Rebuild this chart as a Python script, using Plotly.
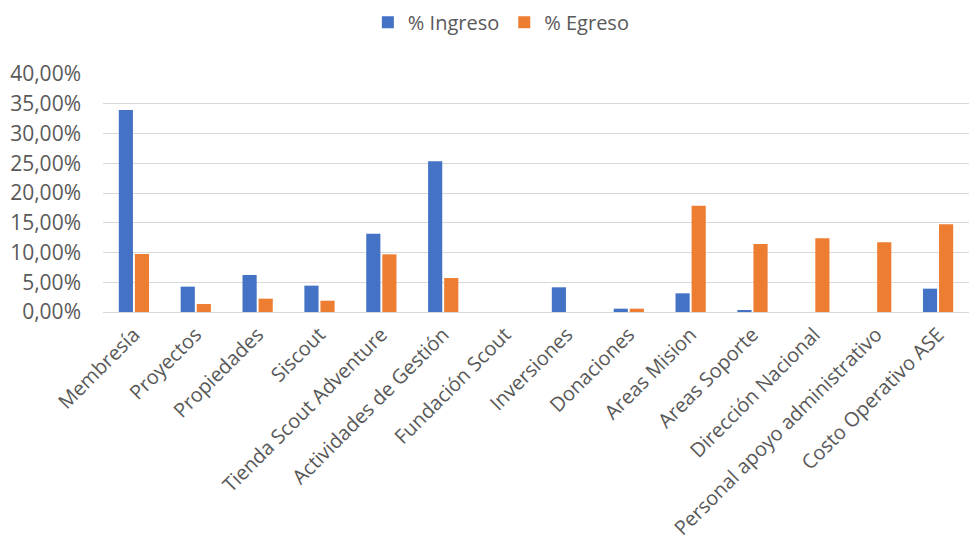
import plotly.graph_objects as go

categories = ["Membresía", "Proyectos", "Propiedades", "Siscout", "Tienda Scout Adventure",
              "Actividades de Gestión", "Fundación Scout", "Inversiones", "Donaciones",
              "Areas Mision", "Areas Soporte", "Dirección Nacional",
              "Personal apoyo administrativo", "Costo Operativo ASE"]
ingreso = [0.3395, 0.0426, 0.0622, 0.0443, 0.1317, 0.2532, 0.0, 0.0415, 0.0056,
           0.0314, 0.0022, 0.0, 0.0, 0.0392]
egreso = [0.0975, 0.0134, 0.0224, 0.0190, 0.0969, 0.0571, 0.0, 0.0, 0.0056,
          0.1787, 0.1143, 0.1238, 0.1171, 0.1473]
y_ticks = [0, 0.05, 0.10, 0.15, 0.20, 0.25, 0.30, 0.35, 0.40]

fig = go.Figure()
fig.add_trace(go.Bar(name="% Ingreso", x=categories, y=ingreso,
                     marker=dict(color="#4472C4", line=dict(width=0))))
fig.add_trace(go.Bar(name="% Egreso", x=categories, y=egreso,
                     marker=dict(color="#ED7D31", line=dict(width=0))))

font = "Open Sans, Liberation Sans, sans-serif"
fig.update_layout(
    width=971, height=550,
    separators=",.",
    barmode="group", bargap=0.48, bargroupgap=0.12,
    plot_bgcolor="white", paper_bgcolor="white",
    margin=dict(l=103, r=2, t=74, b=238, autoexpand=False),
    font=dict(family=font, size=21, color="#595959"),
    legend=dict(orientation="h", x=0.46, xanchor="center", y=0.995, yref="container",
                yanchor="top", font=dict(size=20, color="#595959"), traceorder="normal",
                itemwidth=30),
    xaxis=dict(tickangle=-45, tickfont=dict(size=20), showgrid=False, showline=False,
               ticks="", automargin=False, ticklabelstandoff=6),
    yaxis=dict(range=[0, 0.4], tickvals=y_ticks, tickformat=".2%", showgrid=True,
               gridcolor="#D9D9D9", gridwidth=1, zeroline=True, zerolinecolor="#D9D9D9",
               zerolinewidth=1, tickfont=dict(size=21), ticks="", ticklabelstandoff=21,
               automargin=False),
)
fig.write_html("out.html", config={"displayModeBar": False},
               post_script="document.body.style.margin='0px';")
